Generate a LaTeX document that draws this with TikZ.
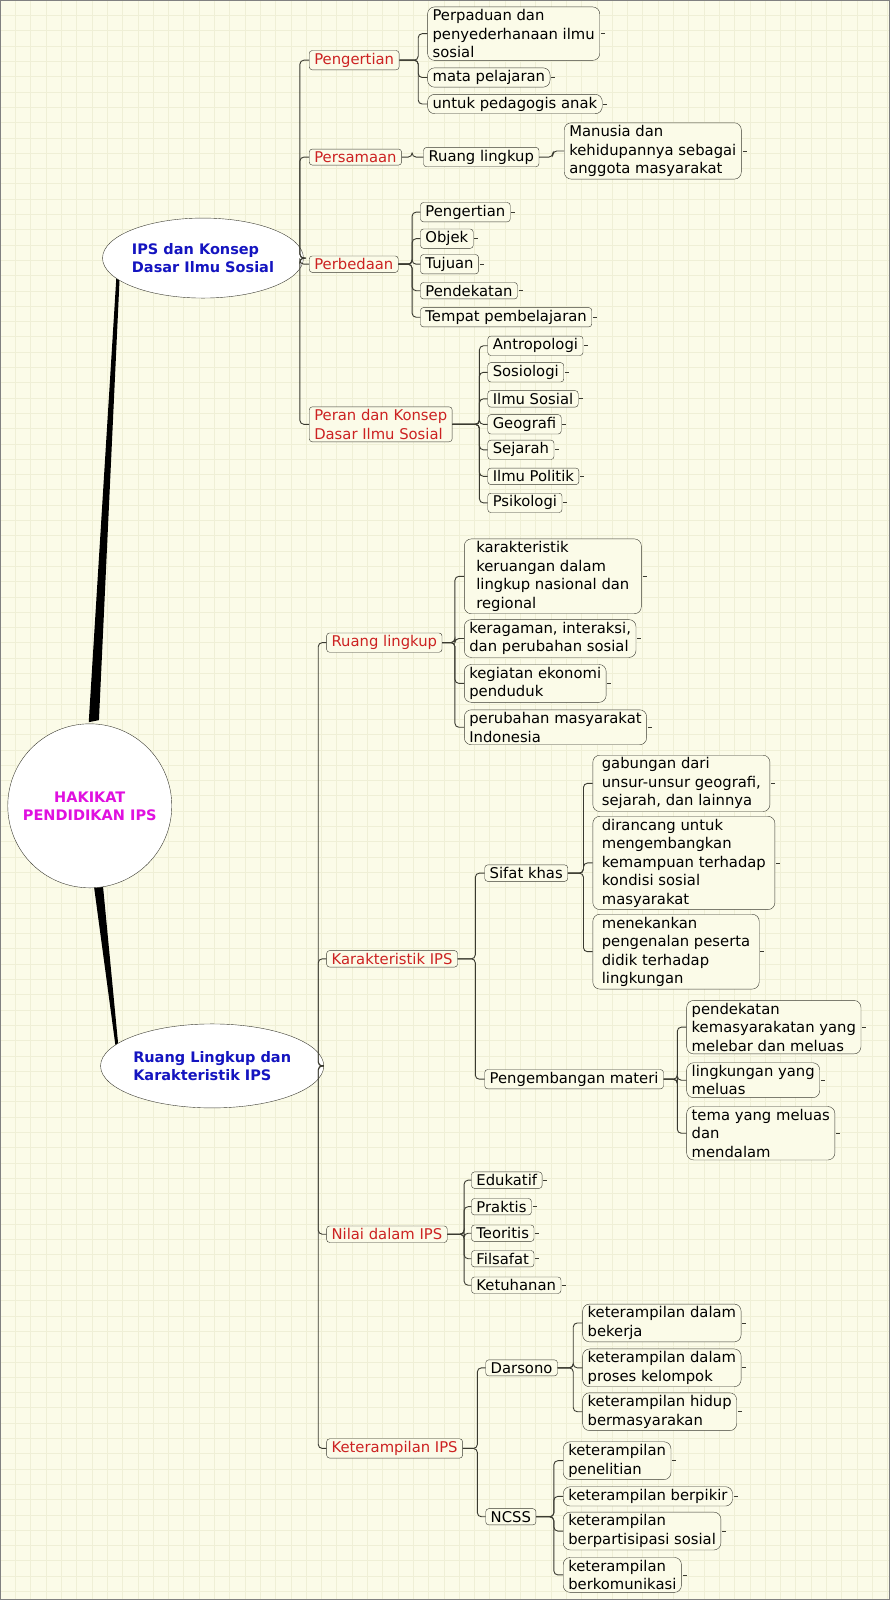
\documentclass[tikz,border=0pt]{standalone}
\usepackage{fontspec}
\setmainfont{DejaVu Sans}
\usetikzlibrary{shapes.geometric}
\definecolor{bg}{HTML}{FBFBE8}
\definecolor{gridc}{HTML}{EFEFD6}
\definecolor{catred}{HTML}{CC2222}
\definecolor{mainblue}{HTML}{1414C0}
\definecolor{rootmag}{HTML}{E010E0}
\definecolor{edge}{HTML}{3A3A30}
\tikzset{
  every node/.style={font=\fontsize{14.8}{18.5}\selectfont},
  root/.style={circle,draw=edge,fill=white,minimum size=164pt,align=center,text=rootmag,font=\fontsize{14.5}{18}\selectfont\bfseries},
  main/.style={ellipse,draw=edge,fill=white,align=left,text=mainblue,font=\fontsize{14.5}{18}\selectfont\bfseries,inner sep=0pt},
  cat/.style={draw=edge,rounded corners=3pt,fill=bg,text=catred,anchor=west,inner xsep=5pt,inner ysep=2.5pt,align=left},
  leaf/.style={draw=edge,rounded corners=7pt,fill=bg,anchor=west,align=left,inner xsep=5pt,inner ysep=2.5pt},
  sub/.style={draw=edge,rounded corners=3pt,fill=bg,anchor=west,inner xsep=5pt,inner ysep=2.5pt},
  conn/.style={draw=edge,line width=0.9pt,rounded corners=4pt},
}
\newcommand\cn[3]{\draw[conn] (#1.east) -- (#1.east -| #3) |- (#2.west);}
\newcommand\tk[1]{\draw[edge,line width=0.8pt] ([xshift=1pt]#1.east) -- ++(4pt,0);}
\begin{document}
\begin{tikzpicture}[x=1.02pt,y=-1.02pt]
\useasboundingbox (0,0) rectangle (872.5,1568.6);
\fill[bg] (0,0) rectangle (872.5,1568.6);
\foreach \i in {0,15,...,870} \draw[gridc,line width=0.4pt] (\i,0) -- (\i,1568.6);
\foreach \j in {0,15,...,1565} \draw[gridc,line width=0.4pt] (0,\j) -- (872.5,\j);
\draw[gray,line width=1.5pt] (0,0) rectangle (872.5,1568.6);

% trunks
\fill[black] (87,708) -- (97,706) -- (118,257) -- (115,257) -- cycle;
\fill[black] (92,868) -- (101,869) -- (118,1046) -- (116,1046) -- cycle;

\node[root] (root) at (88,790) {HAKIKAT\\PENDIDIKAN IPS};
\node[main,minimum width=170pt,minimum height=80pt] (m1) at (199,253) {IPS dan Konsep\\Dasar Ilmu Sosial};
\node[main,minimum width=188pt,minimum height=84pt] (m2) at (208,1045) {Ruang Lingkup dan\\Karakteristik IPS};

% spine coordinates
\coordinate (s1) at (294,0);
\coordinate (s11) at (410,0);
\coordinate (s12) at (404,0);
\coordinate (s12b) at (542,0);
\coordinate (s13) at (404,0);
\coordinate (s14) at (470,0);
\coordinate (s2) at (312,0);
\coordinate (s21) at (446,0);
\coordinate (s22) at (466,0);
\coordinate (s221) at (572,0);
\coordinate (s222) at (664,0);
\coordinate (s23) at (455,0);
\coordinate (s24) at (468,0);
\coordinate (s241) at (562,0);
\coordinate (s242) at (543,0);

% Branch 1
\node[cat] (a1) at (303,59) {Pengertian};
\node[cat] (a2) at (303,154) {Persamaan};
\node[cat] (a3) at (303,259) {Perbedaan};
\node[cat] (a4) at (303,416) {Peran dan Konsep\\Dasar Ilmu Sosial};
\foreach \c in {a1,a2,a3,a4} {\cn{m1}{\c}{s1}}

\node[leaf] (a11) at (419,33) {Perpaduan dan\\penyederhanaan ilmu\\sosial};
\node[leaf] (a12) at (419,76) {mata pelajaran};
\node[leaf] (a13) at (419,102) {untuk pedagogis anak};
\foreach \c in {a11,a12,a13} {\cn{a1}{\c}{s11}\tk{\c}}

\node[sub] (a21) at (415,154) {Ruang lingkup};
\cn{a2}{a21}{s12}
\node[leaf] (a211) at (553,148) {Manusia dan\\kehidupannya sebagai\\anggota masyarakat};
\cn{a21}{a211}{s12b}\tk{a211}

\node[sub] (a31) at (412,208) {Pengertian};
\node[sub] (a32) at (412,234) {Objek};
\node[sub] (a33) at (412,259) {Tujuan};
\node[sub] (a34) at (412,285) {Pendekatan};
\node[sub] (a35) at (412,311) {Tempat pembelajaran};
\foreach \c in {a31,a32,a33,a34,a35} {\cn{a3}{\c}{s13}\tk{\c}}

\node[sub] (a41) at (478,339) {Antropologi};
\node[sub] (a42) at (478,365) {Sosiologi};
\node[sub] (a43) at (478,391) {Ilmu Sosial};
\node[sub] (a44) at (478,416) {Geografi};
\node[sub] (a45) at (478,441) {Sejarah};
\node[sub] (a46) at (478,467) {Ilmu Politik};
\node[sub] (a47) at (478,493) {Psikologi};
\foreach \c in {a41,a42,a43,a44,a45,a46,a47} {\cn{a4}{\c}{s14}\tk{\c}}

% Branch 2
\node[cat] (b1) at (320,630) {Ruang lingkup};
\node[cat] (b2) at (320,940) {Karakteristik IPS};
\node[cat] (b3) at (320,1210) {Nilai dalam IPS};
\node[cat] (b4) at (320,1420) {Keterampilan IPS};
\foreach \c in {b1,b2,b3,b4} {\cn{m2}{\c}{s2}}

\node[leaf,inner xsep=12pt] (b11) at (455,565) {karakteristik\\keruangan dalam\\lingkup nasional dan\\regional};
\node[leaf] (b12) at (455,626) {keragaman, interaksi,\\dan perubahan sosial};
\node[leaf] (b13) at (455,670) {kegiatan ekonomi\\penduduk};
\node[leaf] (b14) at (455,713) {perubahan masyarakat\\Indonesia};
\foreach \c in {b11,b12,b13,b14} {\cn{b1}{\c}{s21}\tk{\c}}

\node[sub] (b21) at (475,856) {Sifat khas};
\node[sub] (b22) at (475,1058) {Pengembangan materi};
\foreach \c in {b21,b22} {\cn{b2}{\c}{s22}}

\node[leaf,inner xsep=9pt] (b211) at (581,768) {gabungan dari\\unsur-unsur geografi,\\sejarah, dan lainnya};
\node[leaf,inner xsep=9pt] (b212) at (581,846) {dirancang untuk\\mengembangkan\\kemampuan terhadap\\kondisi sosial\\masyarakat};
\node[leaf,inner xsep=9pt] (b213) at (581,933) {menekankan\\pengenalan peserta\\didik terhadap\\lingkungan};
\foreach \c in {b211,b212,b213} {\cn{b21}{\c}{s221}\tk{\c}}

\node[leaf] (b221) at (673,1007) {pendekatan\\kemasyarakatan yang\\melebar dan meluas};
\node[leaf] (b222) at (673,1059) {lingkungan yang\\meluas};
\node[leaf] (b223) at (673,1111) {tema yang meluas\\dan\\mendalam};
\foreach \c in {b221,b222,b223} {\cn{b22}{\c}{s222}\tk{\c}}

\node[sub] (b31) at (462,1157) {Edukatif};
\node[sub] (b32) at (462,1183) {Praktis};
\node[sub] (b33) at (462,1209) {Teoritis};
\node[sub] (b34) at (462,1234) {Filsafat};
\node[sub] (b35) at (462,1260) {Ketuhanan};
\foreach \c in {b31,b32,b33,b34,b35} {\cn{b3}{\c}{s23}\tk{\c}}

\node[sub] (b41) at (476,1341) {Darsono};
\node[sub] (b42) at (476,1487) {NCSS};
\foreach \c in {b41,b42} {\cn{b4}{\c}{s24}}

\node[leaf] (b411) at (571,1297) {keterampilan dalam\\bekerja};
\node[leaf] (b412) at (571,1341) {keterampilan dalam\\proses kelompok};
\node[leaf] (b413) at (571,1384) {keterampilan hidup\\bermasyarakan};
\foreach \c in {b411,b412,b413} {\cn{b41}{\c}{s241}\tk{\c}}

\node[leaf] (b421) at (552,1432) {keterampilan\\penelitian};
\node[leaf] (b422) at (552,1467) {keterampilan berpikir};
\node[leaf] (b423) at (552,1501) {keterampilan\\berpartisipasi sosial};
\node[leaf] (b424) at (552,1544) {keterampilan\\berkomunikasi};
\foreach \c in {b421,b422,b423,b424} {\cn{b42}{\c}{s242}\tk{\c}}
\end{tikzpicture}
\end{document}
